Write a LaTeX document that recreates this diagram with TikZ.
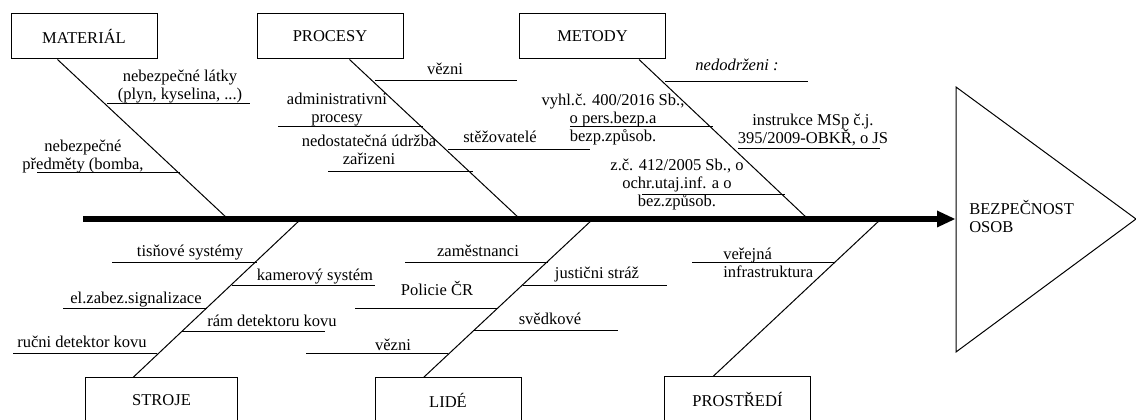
\documentclass[tikz,border=0pt]{standalone}
\usepackage{fontspec}
\setmainfont{Liberation Serif}
\usetikzlibrary{positioning}

\tikzset{
  catbox/.style={draw=black, line width=0.75pt, minimum width=109.5pt, minimum height=33.75pt, inner sep=0pt, font=\fontsize{12.4}{13.8}\selectfont},
  cause/.style={inner sep=0pt, anchor=base, align=center, font=\fontsize{12.4}{13.8}\selectfont},
  bone/.style={black, line width=0.75pt}
}

\begin{document}
\begin{tikzpicture}[x=0.75pt,y=0.75pt]
\clip (0,0) rectangle (1136,-420);
\node [catbox] (material) at (84,-36.5) {MATERIÁL};
\node [catbox] (procesy) at (330,-36.5) {PROCESY};
\node [catbox] (metody) at (592.5,-36.5) {METODY};
\node [catbox, minimum width=114pt] (stroje) at (161.5,-400.5) {STROJE};
\node [catbox] (lide) at (448,-400.5) {LIDÉ};
\node [catbox] (prostredi) at (737.5,-399.5) {PROSTŘEDÍ};
\coordinate (tail) at (83,-219);
\coordinate (head) at (937,-219);
\coordinate (tip) at (955,-219);
\draw [black, line width=4.5pt] (tail) -- (head);
\fill [black] (937,-210.5) -- (tip) -- (937,-227.5) -- cycle;
\draw [bone] (956,-87) -- (1136,-219) -- (956,-352) -- cycle;
\node [cause, anchor=base west, align=left] (effect) at (969,-233) {BEZPEČNOST\\OSOB};
\coordinate (jmat) at (228,-219);
\coordinate (jproc) at (520,-219);
\coordinate (jmet) at (808,-219);
\coordinate (jstr) at (301,-219);
\coordinate (jlid) at (593,-219);
\coordinate (jpro) at (881,-219);
\draw [bone] (material.south west) ++(47,0) -- (jmat);
\draw [bone] (procesy.south west) ++(93,0) -- (jproc);
\draw [bone] (metody.south west) ++(120,0) -- (jmet);
\draw [bone] (stroje.north west) ++(48,0) -- (jstr);
\draw [bone] (lide.north west) ++(49,0) -- (jlid);
\draw [bone] (prostredi.north west) ++(49,0) -- (jpro);
\draw [bone] (107,-104) -- (250,-104);
\node [cause] (latky) at (180,-100) {nebezpečné látky\\(plyn, kyselina, ...)};
\draw [bone] (37,-173) -- (180,-173);
\node [cause] (predmety) at (83,-170) {nebezpečné\\předměty (bomba,};
\draw [bone] (375,-81) -- (517,-81);
\node [cause] (vezni1) at (445,-75) {vězni};
\draw [bone] (278,-127) -- (423,-127);
\node [cause] (admin) at (337,-123) {administrativni\\procesy};
\draw [bone] (328,-172) -- (473,-172);
\node [cause] (udrzba) at (369,-165) {nedostatečná údržba\\zařizeni};
\draw [bone] (448,-150) -- (590,-150);
\node [cause] (stez) at (500,-143) {stěžovatelé};
\draw [bone] (665,-82) -- (808,-82);
\node [cause] (nedodr) at (737,-71) {\itshape nedodrženi :};
\draw [bone] (570,-127) -- (713,-127);
\node [cause] (vyhl) at (613,-142) {vyhl.č. 400/2016 Sb.,\\o pers.bezp.a\\bezp.způsob.};
\draw [bone] (738,-149) -- (880,-149);
\node [cause] (instr) at (813,-144) {instrukce MSp č.j.\\395/2009-OBKŘ, o JS};
\draw [bone] (642,-195) -- (785,-195);
\node [cause] (zakon) at (677,-207) {z.č. 412/2005 Sb., o\\ochr.utaj.inf. a o\\bez.způsob.};
\draw [bone] (112,-263) -- (257,-263);
\node [cause] (tisn) at (190,-257) {tisňové systémy};
\draw [bone] (232,-286) -- (375,-286);
\node [cause] (kamer) at (315,-281) {kamerový systém};
\draw [bone] (63,-309) -- (207,-309);
\node [cause] (ezs) at (136,-304) {el.zabez.signalizace};
\draw [bone] (182,-332) -- (325,-332);
\node [cause] (ram) at (272,-327) {rám detektoru kovu};
\draw [bone] (13,-354) -- (157,-354);
\node [cause] (rucni) at (82,-348) {ručni detektor kovu};
\draw [bone] (405,-263) -- (548,-263);
\node [cause] (zam) at (478,-257) {zaměstnanci};
\draw [bone] (523,-286) -- (667,-286);
\node [cause] (justice) at (597,-279) {justični stráž};
\draw [bone] (355,-309) -- (498,-309);
\node [cause] (policie) at (437,-296) {Policie ČR};
\draw [bone] (473,-331) -- (618,-331);
\node [cause] (svedci) at (550,-325) {svědkové};
\draw [bone] (306,-354) -- (448,-354);
\node [cause] (vezni2) at (393,-351) {vězni};
\draw [bone] (692,-263) -- (835,-263);
\node [cause, anchor=base west, align=left] (infra) at (723,-278) {veřejná\\infrastruktura};
\end{tikzpicture}
\end{document}
